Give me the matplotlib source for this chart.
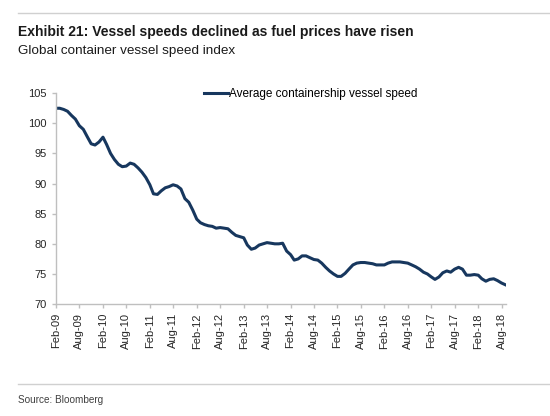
import pandas as pd
import matplotlib.pyplot as plt
import matplotlib.dates as mdates
from matplotlib.lines import Line2D

# monthly readings, Feb-09 onwards
speed = [102.5, 102.5, 102.3, 102.0, 101.3, 100.7, 99.6, 99.0, 97.8, 96.6,
         96.4, 96.9, 97.7, 96.5, 95.0, 94.0, 93.2, 92.8, 92.9, 93.4,
         93.2, 92.6, 91.9, 91.0, 89.8, 88.3, 88.2, 88.8, 89.3, 89.5,
         89.8, 89.6, 89.1, 87.5, 86.9, 85.6, 84.1, 83.5, 83.2, 83.0,
         82.9, 82.6, 82.7, 82.6, 82.5, 81.9, 81.4, 81.2, 81.0, 79.8,
         79.1, 79.3, 79.8, 80.0, 80.2, 80.1, 80.0, 80.0, 80.1, 78.8,
         78.2, 77.3, 77.5, 78.0, 78.0, 77.7, 77.4, 77.3, 76.8, 76.1,
         75.5, 75.0, 74.6, 74.6, 75.1, 75.8, 76.5, 76.8, 76.9, 76.9,
         76.8, 76.7, 76.5, 76.5, 76.5, 76.8, 77.0, 77.0, 77.0, 76.9,
         76.8, 76.5, 76.2, 75.8, 75.3, 75.0, 74.5, 74.1, 74.5, 75.2,
         75.5, 75.3, 75.8, 76.1, 75.8, 74.8, 74.8, 74.9, 74.8, 74.2,
         73.8, 74.1, 74.2, 73.9, 73.5, 73.2]
dates = pd.date_range('2009-02-01', periods=len(speed), freq='MS')
yticks = [70, 75, 80, 85, 90, 95, 100, 105]

title = "Exhibit 21: Vessel speeds declined as fuel prices have risen"
subtitle = "Global container vessel speed index"
series_name = "Average containership vessel speed"
source = "Source: Bloomberg"

navy = '#17375E'
grey = '#BFBFBF'

plt.rcParams['font.family'] = ['Liberation Sans', 'DejaVu Sans']

fig = plt.figure(figsize=(5.5, 4.16), dpi=100)
ax = fig.add_axes([0.102, 0.269, 0.818, 0.507])

ax.plot(dates, speed, color=navy, linewidth=2.2, solid_joinstyle='round')

ax.set_ylim(70, 105)
ax.set_yticks(yticks)
ax.set_xlim(pd.Timestamp('2009-02-01'), pd.Timestamp('2018-09-05'))
ax.xaxis.set_major_locator(mdates.MonthLocator(bymonth=[2, 8], bymonthday=1))
ax.xaxis.set_major_formatter(mdates.DateFormatter('%b-%y'))
plt.setp(ax.get_xticklabels(), rotation=90)

for s in ['top', 'right']:
    ax.spines[s].set_visible(False)
for s in ['left', 'bottom']:
    ax.spines[s].set_color(grey)
    ax.spines[s].set_linewidth(1.0)
ax.tick_params(axis='both', colors=grey, labelcolor='#262626', labelsize=8,
               length=3, width=1.0)

leg = ax.legend([Line2D([0], [0], color=navy, linewidth=2.2)], [series_name],
                loc='upper left', bbox_to_anchor=(0.318, 1.045), frameon=False,
                fontsize=8.5, handlelength=2.0, handletextpad=0.1,
                borderaxespad=0.0)

# header, rules and source
fig.add_artist(Line2D([0.033, 1.0], [0.969, 0.969], color='#D0D0D0', linewidth=1.0))
fig.text(0.033, 0.923, title, fontsize=10, fontweight='bold', color='#1a1a1a',
         va='center')
fig.text(0.033, 0.877, subtitle, fontsize=9.7, color='#1a1a1a', va='center')
fig.add_artist(Line2D([0.033, 1.0], [0.078, 0.078], color='#D0D0D0', linewidth=1.0))
fig.text(0.033, 0.038, source, fontsize=7.2, color='#404040', va='center')

fig.savefig('out.png', dpi=100)
